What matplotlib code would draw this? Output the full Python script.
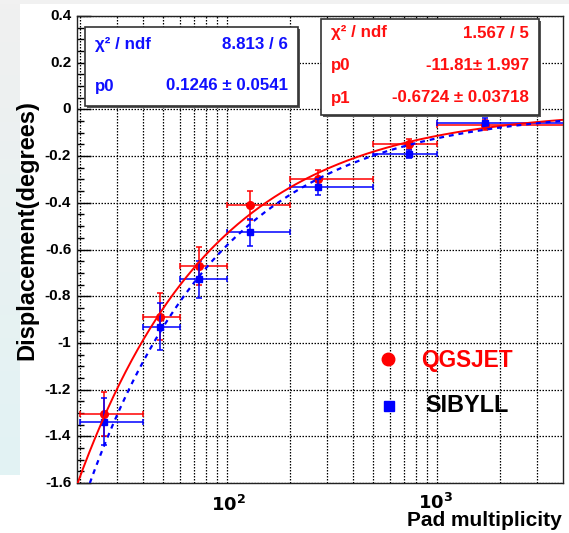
import numpy as np
import matplotlib.pyplot as plt
from matplotlib.patches import Rectangle
from matplotlib.colors import LinearSegmentedColormap
from matplotlib.ticker import FixedLocator, NullFormatter

plt.rcParams['font.family'] = ['Liberation Sans', 'DejaVu Sans']

# bins in pad multiplicity
x_centre = [26, 48, 74, 130, 274, 736, 1700]
x_low = [20, 40, 60, 100, 200, 500, 1000]
x_high = [40, 60, 100, 200, 500, 1000, 4200]

# QGSJET (red)
y_qgs = [-1.304, -0.888, -0.670, -0.410, -0.298, -0.148, -0.067]
ey_qgs = [0.095, 0.10, 0.08, 0.062, 0.04, 0.02, 0.02]
# SIBYLL (blue)
y_sib = [-1.338, -0.930, -0.728, -0.526, -0.331, -0.190, -0.057]
ey_sib = [0.10, 0.10, 0.08, 0.057, 0.035, 0.018, 0.022]

# fit parameters shown in the stat boxes
qgs_p0, qgs_p1 = -11.81, -0.6724
sib_p0 = 0.1246

W, H = 569, 533
fig = plt.figure(figsize=(W / 100, H / 100), dpi=100)

def fx(x):
    return x / W

def fy(y):
    return 1 - y / H

# slide background bits
bg = fig.add_axes([0, 0, 1, 1], zorder=-10)
bg.set_xlim(0, W)
bg.set_ylim(H, 0)
bg.axis('off')
bg.add_patch(Rectangle((0, 0), W, 4, color='#f1f1f1', lw=0))
grad = np.linspace(0, 1, 100)[:, None]
bg.imshow(grad, extent=(0, 20, 475, 4), aspect='auto',
          cmap=LinearSegmentedColormap.from_list('g', ['#f0f0f0', '#e2f3f4']))

ax = fig.add_axes([fx(77), fy(483), fx(563 - 77), (483 - 16) / H])
ax.set_xscale('log')
ax.set_xlim(19.4, 4000)
ax.set_ylim(-1.6, 0.4)

xx = np.logspace(np.log10(19.4), np.log10(4000), 400)
fit_qgs = qgs_p0 * xx ** qgs_p1
fit_sib = qgs_p0 * (xx * (1 - sib_p0)) ** qgs_p1

xerr = [np.array(x_centre) - np.array(x_low), np.array(x_high) - np.array(x_centre)]
ax.errorbar(x_centre, y_qgs, yerr=ey_qgs, xerr=xerr, fmt='o', color='red', ms=5.5,
            elinewidth=1.1, capsize=2.5, capthick=1.1, zorder=3)
ax.errorbar(x_centre, y_sib, yerr=ey_sib, xerr=xerr, fmt='s', color='blue', ms=4.6,
            elinewidth=1.1, capsize=2.5, capthick=1.1, zorder=4)
ax.plot(xx, fit_qgs, color='red', lw=1.4, zorder=5)
ax.plot(xx, fit_sib, color='blue', lw=1.6, ls=(0, (2.2, 2.2)), zorder=5)

# grid
ax.xaxis.set_major_locator(FixedLocator([100, 1000]))
minors = [20, 30, 40, 50, 60, 70, 80, 90, 200, 300, 400, 500, 600, 700, 800, 900, 2000, 3000]
ax.xaxis.set_minor_locator(FixedLocator(minors))
ax.xaxis.set_minor_formatter(NullFormatter())
ax.set_xticklabels([])
ax.set_yticks(np.arange(-1.6, 0.41, 0.2))
ax.set_yticks(np.arange(-1.6, 0.41, 0.05), minor=True)
ax.set_yticklabels([])
ax.grid(True, which='major', color='black', ls=(0, (1.2, 1.2)), lw=0.9)
ax.grid(True, which='minor', axis='x', color='black', ls=(0, (1.2, 1.2)), lw=0.9)
ax.tick_params(axis='y', which='major', direction='in', length=10, width=1, right=False)
ax.tick_params(axis='y', which='minor', direction='in', length=5, width=1)
ax.tick_params(axis='x', which='both', length=0)
for s in ax.spines.values():
    s.set_color('#222222')
    s.set_linewidth(1.0)

# y tick labels
ylabs = ['-1.6', '-1.4', '-1.2', '-1', '-0.8', '-0.6', '-0.4', '-0.2', '0', '0.2', '0.4']
for v, t in zip(np.arange(-1.6, 0.41, 0.2), ylabs):
    ax.text(-0.012, (v + 1.6) / 2.0, t, transform=ax.transAxes, ha='right', va='center',
            fontsize=11, fontweight='bold')

# x tick labels and axis titles
fig.text(fx(228), fy(505), r'$\mathbf{10^{2}}$', ha='center', va='center', fontsize=13)
fig.text(fx(436), fy(503), r'$\mathbf{10^{3}}$', ha='center', va='center', fontsize=13)
fig.text(fx(562), fy(521), 'Pad multiplicity', ha='right', va='center', fontsize=15, fontweight='bold')
fig.text(fx(27), fy(230), 'Displacement(degrees)', ha='center', va='center', rotation=90,
         fontsize=17, fontweight='bold')

# stat boxes
def stat_box(x0, y0, x1, y1, rows, color):
    sh = Rectangle((fx(x0 + 2), fy(y1 + 2)), fx(x1 - x0), (y1 - y0) / H, transform=fig.transFigure,
                   facecolor='#555555', edgecolor='none', zorder=6)
    bx = Rectangle((fx(x0), fy(y1)), fx(x1 - x0), (y1 - y0) / H, transform=fig.transFigure,
                   facecolor='white', edgecolor='#333333', lw=1.2, zorder=7)
    fig.add_artist(sh)
    fig.add_artist(bx)
    for yy, left, right in rows:
        fig.text(fx(x0 + 10), fy(yy), left, color=color, ha='left', va='center',
                 fontsize=12.2, fontweight='bold', zorder=8)
        fig.text(fx(x1 - 10), fy(yy), right, color=color, ha='right', va='center',
                 fontsize=12.2, fontweight='bold', zorder=8)

stat_box(85, 27, 298, 106, [(45, u'\u03c7\u00b2 / ndf', '8.813 / 6'),
                            (86, 'p0', u'0.1246 \u00b1 0.0541')], '#1010ff')
stat_box(321, 19, 539, 115, [(33, u'\u03c7\u00b2 / ndf', '1.567 / 5'),
                             (66, 'p0', u'-11.81\u00b1 1.997'),
                             (98, 'p1', u'-0.6724 \u00b1 0.03718')], '#ff1010')

# legend
ax.plot([fx(388)], [fy(359)], 'o', color='red', ms=9, transform=fig.transFigure, clip_on=False, zorder=9)
ax.plot([fx(389)], [fy(406)], 's', color='blue', ms=7, transform=fig.transFigure, clip_on=False, zorder=9)
fig.text(fx(421), fy(360), 'QGSJET', color='red', ha='left', va='center', fontsize=16.3, fontweight='bold')
fig.text(fx(425), fy(405), 'SIBYLL', color='black', ha='left', va='center', fontsize=16.8, fontweight='bold')

fig.savefig('out.png', dpi=100)
